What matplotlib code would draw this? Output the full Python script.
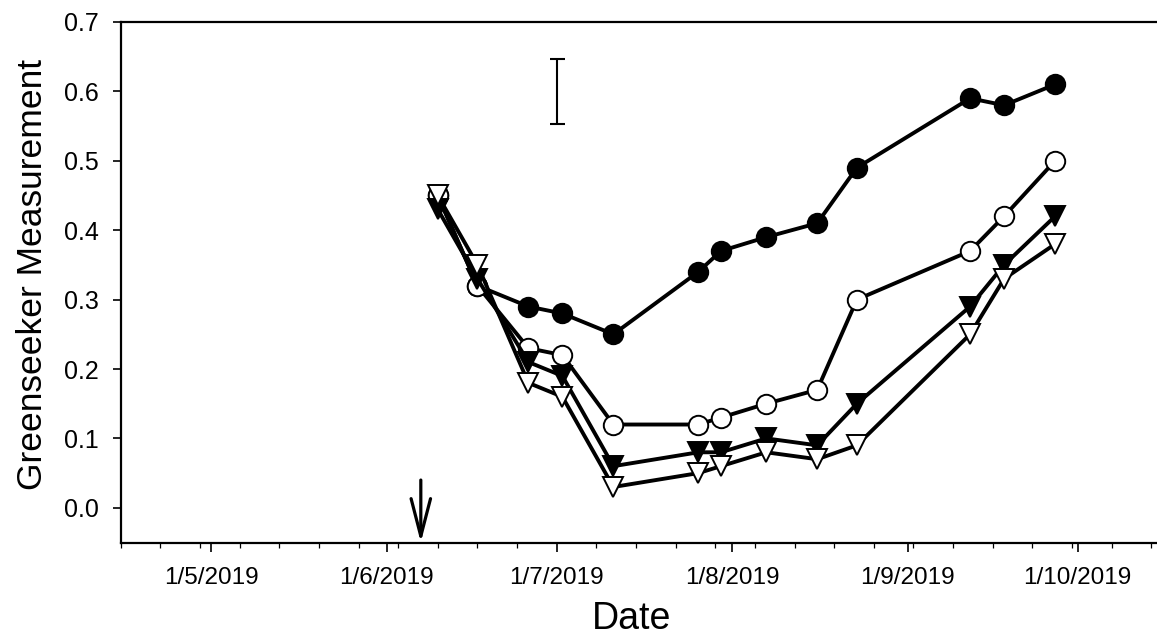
import matplotlib
matplotlib.use("Agg")
import matplotlib.pyplot as plt
import matplotlib.dates as mdates
import numpy as np
import datetime as dt

plt.rcParams['font.family'] = ['Liberation Sans', 'DejaVu Sans']

# ---- data ----
dates = ["2019-06-10", "2019-06-17", "2019-06-26", "2019-07-02", "2019-07-11",
         "2019-07-26", "2019-07-30", "2019-08-07", "2019-08-16", "2019-08-23",
         "2019-09-12", "2019-09-18", "2019-09-27"]
filled_circle = [0.45, 0.32, 0.29, 0.28, 0.25, 0.34, 0.37, 0.39, 0.41, 0.49, 0.59, 0.58, 0.61]
open_circle = [0.45, 0.32, 0.23, 0.22, 0.12, 0.12, 0.13, 0.15, 0.17, 0.30, 0.37, 0.42, 0.50]
filled_triangle = [0.43, 0.33, 0.21, 0.19, 0.06, 0.08, 0.08, 0.10, 0.09, 0.15, 0.29, 0.35, 0.42]
open_triangle = [0.45, 0.35, 0.18, 0.16, 0.03, 0.05, 0.06, 0.08, 0.07, 0.09, 0.25, 0.33, 0.38]

errbar_date = "2019-07-01"
errbar_center = 0.60
errbar_half = 0.047

arrow_date = "2019-06-07"
arrow_top = 0.04

major_tick_dates = ["2019-05-01", "2019-06-01", "2019-07-01", "2019-08-01", "2019-09-01", "2019-10-01"]
major_tick_labels = ["1/5/2019", "1/6/2019", "1/7/2019", "1/8/2019", "1/9/2019", "1/10/2019"]
y_ticks = [0.0, 0.1, 0.2, 0.3, 0.4, 0.5, 0.6, 0.7]
y_tick_labels = ["0.0", "0.1", "0.2", "0.3", "0.4", "0.5", "0.6", "0.7"]
x_range = ["2019-04-15", "2019-10-15"]
y_range = [-0.05, 0.7]


def d(s):
    return dt.datetime.strptime(s, "%Y-%m-%d")


x = [d(s) for s in dates]

fig = plt.figure(figsize=(11.57, 6.39), dpi=100)
ax = fig.add_axes([0.1043, 0.151, 0.8957, 0.8146])

lw = 2.8
ms = 14
mew = 1.4
ax.plot(x, filled_circle, '-', color='black', lw=lw, marker='o', ms=ms,
        mfc='black', mec='black', mew=mew, zorder=3)
ax.plot(x, open_circle, '-', color='black', lw=lw, marker='o', ms=ms,
        mfc='white', mec='black', mew=mew, zorder=4)
ax.plot(x, filled_triangle, '-', color='black', lw=lw, marker='v', ms=ms + 0.8,
        mfc='black', mec='black', mew=mew, zorder=5)
ax.plot(x, open_triangle, '-', color='black', lw=lw, marker='v', ms=ms + 0.8,
        mfc='white', mec='black', mew=mew, zorder=6)

ax.errorbar([d(errbar_date)], [errbar_center], yerr=[errbar_half], fmt='none',
            ecolor='black', elinewidth=1.5, capsize=5.4, capthick=1.5, zorder=7)

ax.annotate('', xy=(d(arrow_date), y_range[0]), xytext=(d(arrow_date), arrow_top),
            arrowprops=dict(arrowstyle='->,head_length=2.7,head_width=0.7',
                            lw=2.3, color='black', shrinkA=0, shrinkB=0,
                            mutation_scale=10),
            annotation_clip=False, zorder=8)

ax.set_xlim(d(x_range[0]), d(x_range[1]))
ax.set_ylim(*y_range)

ax.set_xticks([d(s) for s in major_tick_dates])
ax.set_xticklabels(major_tick_labels)
ax.xaxis.set_minor_locator(mdates.WeekdayLocator(byweekday=mdates.MO))
ax.set_yticks(y_ticks)
ax.set_yticklabels(y_tick_labels)

for sp in ['left', 'bottom', 'top']:
    ax.spines[sp].set_linewidth(1.6)
ax.spines['right'].set_visible(False)

ax.tick_params(axis='x', which='major', direction='out', length=6.5, width=1.2,
               labelsize=17.5, pad=11, top=False)
ax.tick_params(axis='x', which='minor', direction='out', length=3.8, width=0.9, top=False)
ax.tick_params(axis='y', which='major', direction='out', length=6, width=1.2,
               labelsize=18, pad=10, right=False)

ax.set_xlabel("Date", fontsize=27, labelpad=4)
ax.set_ylabel("Greenseeker Measurement", fontsize=25.5)
ax.yaxis.label.set_verticalalignment('center')
ax.yaxis.set_label_coords((33 - 120.7) / 1036.3, (542.5 - 274) / 520.5)
ax.xaxis.label.set_verticalalignment('center')
ax.xaxis.set_label_coords(0.4925, (542.5 - 619) / 520.5)

fig.savefig("out.png", dpi=100)
